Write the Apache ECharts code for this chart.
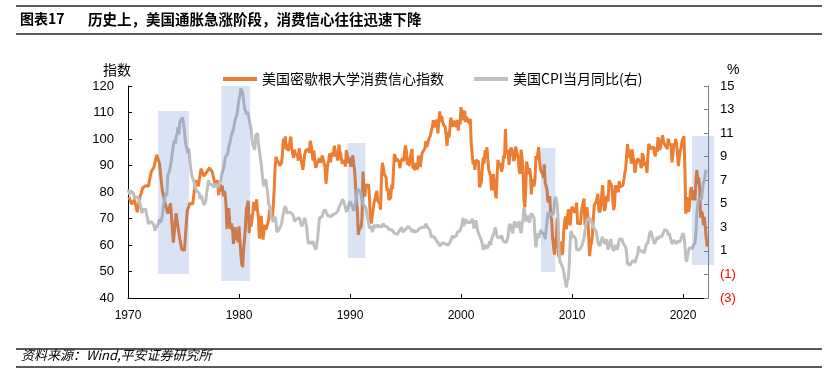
<!DOCTYPE html>
<html>
<head>
<meta charset="utf-8">
<script src="https://cdn.jsdelivr.net/npm/echarts@6/dist/echarts.min.js"></script>
<style>
  html, body { margin: 0; padding: 0; background: #fff; }
  #main { width: 838px; height: 390px; }
</style>
</head>
<body>
<div id="main"></div>
<script>
// 美国密歇根大学消费信心指数：1970-1977 为季度（2/5/8/11月），1978 起为月度
var sentQuarterly = [
  78.1, 75.4, 77.1, 72.4,   // 1970
  78.2, 81.6, 82.4, 82.2,   // 1971
  87.5, 89.3, 94.0, 90.8,   // 1972
  80.8, 76.0, 71.8, 75.7,   // 1973
  60.9, 72.0, 64.5, 58.4,   // 1974
  58.0, 72.9, 75.8, 75.4,   // 1975
  84.5, 82.2, 88.8, 86.0,   // 1976
  87.5, 89.1, 87.6, 83.1    // 1977
];
var sentMonthly = [
  83.7, 84.3, 78.8, 81.6, 82.9, 80.0, 82.4, 78.4, 80.4, 79.3, 75.0, 66.1,   // 1978
  72.1, 73.9, 68.4, 66.0, 68.1, 65.8, 60.4, 64.5, 66.7, 62.1, 63.3, 61.0,   // 1979
  67.0, 66.9, 56.5, 52.7, 51.7, 58.7, 62.3, 67.3, 73.7, 75.0, 76.7, 64.5,   // 1980
  71.4, 66.9, 66.5, 72.4, 76.3, 73.1, 74.1, 77.2, 73.1, 70.3, 62.5, 64.3,   // 1981
  71.0, 66.5, 62.0, 65.5, 67.5, 65.7, 65.4, 65.4, 69.3, 73.4, 72.1, 71.9,   // 1982
  70.4, 74.6, 80.8, 89.1, 93.3, 92.2, 92.8, 90.9, 89.9, 89.3, 91.1, 94.2,   // 1983
  100.1, 97.4, 101.0, 96.1, 98.1, 95.5, 96.6, 99.1, 100.9, 96.3, 95.7, 92.9, // 1984
  96.0, 93.7, 93.7, 94.6, 91.8, 96.5, 94.0, 92.4, 92.1, 88.4, 90.9, 93.9,   // 1985
  95.6, 95.9, 95.1, 96.2, 94.8, 99.3, 97.7, 94.9, 91.9, 95.6, 91.4, 89.1,   // 1986
  90.4, 90.2, 90.8, 92.8, 91.1, 91.5, 93.7, 94.4, 93.6, 89.3, 83.1, 86.8,   // 1987
  90.8, 91.6, 94.6, 91.2, 94.8, 94.7, 93.4, 97.4, 97.3, 94.1, 93.0, 91.9,   // 1988
  97.9, 95.4, 94.3, 91.5, 90.7, 90.6, 92.0, 89.6, 95.8, 93.9, 90.9, 90.5,   // 1989
  93.0, 89.5, 91.3, 93.9, 90.6, 88.3, 88.2, 76.4, 72.8, 63.9, 66.0, 65.5,   // 1990
  66.8, 70.4, 87.7, 81.8, 78.3, 82.1, 82.9, 82.0, 83.0, 78.3, 69.1, 68.2,   // 1991
  67.5, 68.8, 76.0, 77.2, 79.2, 80.4, 76.6, 76.1, 75.6, 73.3, 85.3, 91.0,   // 1992
  89.3, 86.6, 85.9, 85.6, 80.3, 81.5, 77.0, 77.3, 77.9, 82.7, 81.2, 88.2,   // 1993
  94.3, 93.2, 91.5, 92.6, 92.8, 91.2, 89.0, 91.7, 91.5, 92.7, 91.6, 95.1,   // 1994
  97.6, 95.1, 90.3, 92.5, 89.8, 92.7, 94.4, 96.2, 88.9, 90.2, 88.2, 91.0,   // 1995
  89.3, 88.5, 93.7, 92.7, 89.4, 92.4, 94.7, 95.3, 94.7, 96.5, 99.2, 96.9,   // 1996
  97.4, 99.7, 100.0, 101.4, 103.2, 104.5, 107.1, 104.4, 106.0, 105.6, 107.2, 102.1, // 1997
  106.6, 110.4, 106.5, 108.7, 106.5, 105.6, 105.2, 104.4, 100.9, 97.4, 102.7, 100.5, // 1998
  103.9, 108.1, 105.7, 104.6, 106.8, 107.3, 106.0, 104.5, 107.2, 103.2, 107.2, 105.4, // 1999
  112.0, 111.3, 107.1, 109.2, 110.7, 106.4, 108.3, 107.3, 106.8, 105.8, 107.6, 98.4, // 2000
  94.7, 90.6, 91.5, 88.4, 92.0, 92.6, 92.4, 91.5, 81.8, 82.7, 83.9, 88.8,   // 2001
  93.0, 90.7, 95.7, 93.0, 96.9, 92.4, 88.1, 87.6, 86.1, 80.6, 84.2, 86.7,   // 2002
  82.4, 79.9, 77.6, 86.0, 92.1, 89.7, 90.9, 89.3, 87.7, 89.6, 93.7, 92.6,   // 2003
  103.8, 94.4, 95.8, 94.2, 90.2, 95.6, 96.7, 95.9, 94.2, 91.7, 92.8, 97.1,  // 2004
  95.5, 94.1, 92.6, 87.7, 86.9, 96.0, 96.5, 89.1, 76.9, 74.2, 81.6, 91.5,   // 2005
  91.2, 86.7, 88.9, 87.4, 79.1, 84.9, 84.7, 82.0, 85.4, 93.6, 92.1, 91.7,   // 2006
  96.9, 91.3, 88.4, 87.1, 88.3, 85.3, 90.4, 83.4, 83.4, 80.9, 76.1, 75.5,   // 2007
  78.4, 70.8, 69.5, 62.6, 59.8, 56.4, 61.2, 63.0, 70.3, 57.6, 55.3, 60.1,   // 2008
  61.2, 56.3, 57.3, 65.1, 68.7, 70.8, 66.0, 65.7, 73.5, 70.6, 67.4, 72.5,   // 2009
  74.4, 73.6, 73.6, 72.2, 73.6, 76.0, 67.8, 68.9, 68.2, 67.7, 71.6, 74.5,   // 2010
  74.2, 77.5, 67.5, 69.8, 74.3, 71.5, 63.7, 55.8, 59.5, 60.8, 63.7, 69.9,   // 2011
  75.0, 75.3, 76.2, 76.4, 79.3, 73.2, 72.3, 74.3, 78.3, 82.6, 82.7, 72.9,   // 2012
  73.8, 77.6, 78.6, 76.4, 84.5, 84.1, 85.1, 82.1, 77.5, 73.2, 75.1, 82.5,   // 2013
  81.2, 81.6, 80.0, 84.1, 81.9, 82.5, 81.8, 82.5, 84.6, 86.9, 88.8, 93.6,   // 2014
  98.1, 95.4, 93.0, 95.9, 90.7, 96.1, 93.1, 91.9, 87.2, 90.0, 91.3, 92.6,   // 2015
  92.0, 91.7, 91.0, 89.0, 94.7, 93.5, 90.0, 89.8, 91.2, 87.2, 93.8, 98.2,   // 2016
  98.5, 96.3, 96.9, 97.0, 97.1, 95.0, 93.4, 96.8, 95.1, 100.7, 98.5, 95.9,  // 2017
  95.7, 99.7, 101.4, 98.8, 98.0, 98.2, 97.9, 96.2, 100.1, 98.6, 97.5, 98.3, // 2018
  91.2, 93.8, 98.4, 97.2, 100.0, 98.2, 98.4, 89.8, 93.2, 95.5, 96.8, 99.3,  // 2019
  99.8, 101.0, 89.1, 71.8, 72.3, 78.1, 72.5, 74.1, 80.4, 81.8, 76.9, 80.7,  // 2020
  79.0, 76.8, 84.9, 88.3, 82.9, 85.5, 81.2, 70.3, 72.8, 71.7, 67.4, 70.6,   // 2021
  67.2, 62.8, 59.4                                                          // 2022
];

// 美国CPI当月同比（%），1970年1月起
var cpiYoY = [
  6.2, 6.1, 5.8, 6.1, 6.0, 6.0, 5.9, 5.4, 5.6, 5.6, 5.6, 5.5,   // 1970
  5.3, 5.0, 4.7, 4.2, 4.4, 4.6, 4.4, 4.6, 4.1, 3.8, 3.3, 3.3,   // 1971
  3.3, 3.5, 3.5, 3.5, 3.2, 2.7, 2.9, 2.9, 3.2, 3.4, 3.7, 3.4,   // 1972
  3.6, 3.9, 4.6, 5.1, 5.5, 5.9, 5.7, 7.4, 7.4, 7.8, 8.3, 8.7,   // 1973
  9.4, 10.0, 10.4, 10.1, 10.7, 10.9, 11.5, 10.9, 11.9, 12.1, 12.2, 12.3, // 1974
  11.8, 11.2, 10.3, 10.2, 9.5, 9.3, 9.7, 8.6, 7.9, 7.4, 7.4, 6.9, // 1975
  6.7, 6.3, 6.1, 6.0, 6.2, 5.9, 5.4, 5.7, 5.5, 5.5, 4.9, 4.9,   // 1976
  5.2, 5.9, 6.4, 7.0, 6.7, 6.8, 6.8, 6.6, 6.6, 6.4, 6.7, 6.7,   // 1977
  6.8, 6.4, 6.6, 6.5, 6.9, 7.4, 7.7, 7.9, 8.3, 8.9, 8.9, 9.0,   // 1978
  9.3, 9.9, 10.1, 10.5, 10.9, 10.9, 11.3, 11.8, 12.2, 12.1, 12.6, 13.3, // 1979
  13.9, 14.2, 14.8, 14.7, 14.4, 14.4, 13.1, 12.9, 12.6, 12.8, 12.6, 12.5, // 1980
  11.8, 11.4, 10.5, 10.0, 9.8, 9.6, 10.8, 10.8, 11.0, 10.1, 9.6, 8.9, // 1981
  8.4, 7.6, 6.8, 6.5, 6.7, 7.1, 6.4, 5.9, 5.0, 5.1, 4.6, 3.8,   // 1982
  3.7, 3.5, 3.6, 3.9, 3.5, 2.6, 2.5, 2.6, 2.9, 2.9, 3.3, 3.8,   // 1983
  4.2, 4.6, 4.8, 4.6, 4.2, 4.2, 4.2, 4.3, 4.3, 4.3, 4.1, 3.9,   // 1984
  3.5, 3.5, 3.7, 3.7, 3.8, 3.8, 3.6, 3.3, 3.1, 3.2, 3.5, 3.8,   // 1985
  3.9, 3.1, 2.2, 1.6, 1.5, 1.8, 1.6, 1.6, 1.8, 1.5, 1.3, 1.1,   // 1986
  1.5, 2.1, 3.0, 3.8, 3.9, 3.7, 3.9, 4.3, 4.4, 4.5, 4.5, 4.4,   // 1987
  4.0, 3.9, 3.9, 3.9, 3.9, 4.0, 4.1, 4.0, 4.2, 4.2, 4.2, 4.4,   // 1988
  4.7, 4.8, 5.0, 5.1, 5.4, 5.2, 5.0, 4.7, 4.3, 4.5, 4.7, 4.6,   // 1989
  5.2, 5.3, 5.2, 4.7, 4.4, 4.7, 4.8, 5.6, 6.2, 6.3, 6.3, 6.1,   // 1990
  5.7, 5.3, 4.9, 4.9, 5.0, 4.7, 4.4, 3.8, 3.4, 2.9, 3.0, 3.1,   // 1991
  2.6, 2.8, 3.2, 3.2, 3.0, 3.1, 3.2, 3.1, 3.0, 3.2, 3.0, 2.9,   // 1992
  3.3, 3.2, 3.1, 3.2, 3.2, 3.0, 2.8, 2.8, 2.7, 2.8, 2.7, 2.7,   // 1993
  2.5, 2.5, 2.5, 2.4, 2.3, 2.5, 2.8, 2.9, 3.0, 2.6, 2.7, 2.7,   // 1994
  2.8, 2.9, 2.9, 3.1, 3.2, 3.0, 2.8, 2.6, 2.5, 2.8, 2.6, 2.5,   // 1995
  2.7, 2.7, 2.8, 2.9, 2.9, 2.8, 3.0, 2.9, 3.0, 3.0, 3.3, 3.3,   // 1996
  3.0, 3.0, 2.8, 2.5, 2.2, 2.3, 2.2, 2.2, 2.2, 2.1, 1.8, 1.7,   // 1997
  1.6, 1.4, 1.4, 1.4, 1.7, 1.7, 1.7, 1.6, 1.5, 1.5, 1.5, 1.6,   // 1998
  1.7, 1.6, 1.7, 2.3, 2.1, 2.0, 2.1, 2.3, 2.6, 2.6, 2.6, 2.7,   // 1999
  2.7, 3.2, 3.8, 3.1, 3.2, 3.7, 3.7, 3.4, 3.5, 3.4, 3.4, 3.4,   // 2000
  3.7, 3.5, 2.9, 3.3, 3.6, 3.2, 2.7, 2.7, 2.6, 2.1, 1.9, 1.6,   // 2001
  1.1, 1.1, 1.5, 1.6, 1.2, 1.1, 1.5, 1.8, 1.5, 2.0, 2.2, 2.4,   // 2002
  2.6, 3.0, 3.0, 2.2, 2.1, 2.1, 2.1, 2.2, 2.3, 2.0, 1.8, 1.9,   // 2003
  1.9, 1.7, 1.7, 2.3, 3.1, 3.3, 3.0, 2.7, 2.5, 3.2, 3.5, 3.3,   // 2004
  3.0, 3.0, 3.1, 3.5, 2.8, 2.5, 3.2, 3.6, 4.7, 4.3, 3.5, 3.4,   // 2005
  4.0, 3.6, 3.4, 3.5, 4.2, 4.3, 4.1, 3.8, 2.1, 1.3, 2.0, 2.5,   // 2006
  2.1, 2.4, 2.8, 2.6, 2.7, 2.7, 2.4, 2.0, 2.8, 3.5, 4.3, 4.1,   // 2007
  4.3, 4.0, 4.0, 3.9, 4.2, 5.0, 5.6, 5.4, 4.9, 3.7, 1.1, 0.1,   // 2008
  0.0, 0.2, -0.4, -0.7, -1.3, -1.4, -2.1, -1.5, -1.3, -0.2, 1.8, 2.7, // 2009
  2.6, 2.1, 2.3, 2.2, 2.0, 1.1, 1.2, 1.1, 1.1, 1.2, 1.1, 1.5,   // 2010
  1.6, 2.1, 2.7, 3.2, 3.6, 3.6, 3.6, 3.8, 3.9, 3.5, 3.4, 3.0,   // 2011
  2.9, 2.9, 2.7, 2.3, 1.7, 1.7, 1.4, 1.7, 2.0, 2.2, 1.8, 1.7,   // 2012
  1.6, 2.0, 1.5, 1.1, 1.4, 1.8, 2.0, 1.5, 1.2, 1.0, 1.2, 1.5,   // 2013
  1.6, 1.1, 1.5, 2.0, 2.1, 2.1, 2.0, 1.7, 1.7, 1.7, 1.3, 0.8,   // 2014
  -0.1, 0.0, -0.1, -0.2, 0.0, 0.1, 0.2, 0.2, 0.0, 0.2, 0.5, 0.7, // 2015
  1.4, 1.0, 0.9, 1.1, 1.0, 1.0, 0.8, 1.1, 1.5, 1.6, 1.7, 2.1,   // 2016
  2.5, 2.7, 2.4, 2.2, 1.9, 1.6, 1.7, 1.9, 2.2, 2.0, 2.2, 2.1,   // 2017
  2.1, 2.2, 2.4, 2.5, 2.8, 2.9, 2.9, 2.7, 2.3, 2.5, 2.2, 1.9,   // 2018
  1.6, 1.5, 1.9, 2.0, 1.8, 1.6, 1.8, 1.7, 1.7, 1.8, 2.1, 2.3,   // 2019
  2.5, 2.3, 1.5, 0.3, 0.1, 0.6, 1.0, 1.3, 1.4, 1.2, 1.2, 1.4,   // 2020
  1.4, 1.7, 2.6, 4.2, 5.0, 5.4, 5.4, 5.3, 5.4, 6.2, 6.8, 7.0,   // 2021
  7.5, 7.9                                                      // 2022
];

// 通胀急涨阶段（阴影）：起止年份、上下沿（左轴）
var shadeStart = [1972.7, 1978.4, 1989.8, 2007.2, 2020.8];
var shadeEnd   = [1975.5, 1981.0, 1991.4, 2008.5, 2022.8];
var shadeTop   = [110.6, 120, 98.5, 96.6, 101.1];
var shadeBot   = [49.1, 46.4, 55.1, 49.8, 52.5];

var xTicks = [1970, 1980, 1990, 2000, 2010, 2020];

var sentData = [];
sentQuarterly.forEach(function (v, i) { sentData.push([1970 + (1 + 3 * i) / 12, v]); });
sentMonthly.forEach(function (v, i) { sentData.push([1978 + i / 12, v]); });
var cpiData = cpiYoY.map(function (v, i) { return [1970 + i / 12, v]; });
var shadeData = shadeStart.map(function (s, i) { return [s, shadeEnd[i], shadeTop[i], shadeBot[i]]; });

var fontEn = 'Liberation Sans, Arial, Noto Sans CJK SC, sans-serif';
var fontCn = 'Noto Sans CJK SC, Liberation Sans, sans-serif';

var myChart = echarts.init(document.getElementById('main'));
var option = {
  animation: false,
  backgroundColor: '#fff',
  textStyle: { fontFamily: fontEn },
  grid: { left: 128, right: 130, top: 86, bottom: 92 },
  legend: {
    data: [
      { name: '美国密歇根大学消费信心指数', icon: 'rect' },
      { name: '美国CPI当月同比(右)', icon: 'rect' }
    ],
    left: 218,
    top: 67,
    itemWidth: 34,
    itemHeight: 4,
    itemGap: 30,
    textStyle: { fontSize: 14, color: '#000', fontFamily: fontCn }
  },
  xAxis: {
    type: 'value',
    min: 1970,
    max: 2022.25,
    interval: 10,
    axisLine: { onZero: false, lineStyle: { color: '#000', width: 1 } },
    axisTick: { inside: true, length: 4, lineStyle: { color: '#000' } },
    axisLabel: {
      color: '#000', fontSize: 12, margin: 12, showMaxLabel: false,
      formatter: function (v) { return xTicks.indexOf(v) >= 0 ? String(v) : ''; }
    },
    splitLine: { show: false }
  },
  yAxis: [
    {
      type: 'value', min: 40, max: 120, interval: 10,
      name: '指数', nameGap: 9,
      nameTextStyle: { color: '#000', fontSize: 14, fontFamily: fontCn, align: 'right', padding: [0, -3, 0, 0] },
      axisLine: { show: true, lineStyle: { color: '#000', width: 1 } },
      axisTick: { show: true, inside: true, length: 4, lineStyle: { color: '#000' } },
      axisLabel: { color: '#000', fontSize: 13, margin: 14 },
      splitLine: { show: false }
    },
    {
      type: 'value', min: -3, max: 15, interval: 2, position: 'right',
      name: '%', nameGap: 9,
      nameTextStyle: { color: '#000', fontSize: 14, align: 'left', padding: [0, 0, 0, 19] },
      axisLine: { show: true, lineStyle: { color: '#808080', width: 1 } },
      axisTick: { show: true, inside: true, length: 4, lineStyle: { color: '#808080' } },
      axisLabel: {
        fontSize: 13, margin: 12,
        formatter: function (v) { return v < 0 ? '{neg|(' + (-v) + ')}' : '{pos|' + v + '}'; },
        rich: { neg: { color: '#ff0000', fontSize: 13 }, pos: { color: '#000', fontSize: 13 } }
      },
      splitLine: { show: false }
    }
  ],
  series: [
    {
      name: '美国密歇根大学消费信心指数',
      type: 'line',
      yAxisIndex: 0,
      symbol: 'none',
      connectNulls: true,
      data: sentData,
      lineStyle: { color: '#ED7D31', width: 3 },
      itemStyle: { color: '#ED7D31' },
      z: 2
    },
    {
      name: '美国CPI当月同比(右)',
      type: 'line',
      yAxisIndex: 1,
      symbol: 'none',
      data: cpiData,
      lineStyle: { color: '#BFBFBF', width: 3 },
      itemStyle: { color: '#BFBFBF' },
      z: 3
    },
    {
      type: 'custom',
      yAxisIndex: 0,
      clip: false,
      silent: true,
      z: 4,
      encode: { x: [0, 1], y: [2, 3] },
      data: shadeData,
      renderItem: function (params, api) {
        var p0 = api.coord([api.value(0), api.value(2)]);
        var p1 = api.coord([api.value(1), api.value(3)]);
        return {
          type: 'rect',
          shape: { x: p0[0], y: p0[1], width: p1[0] - p0[0], height: p1[1] - p0[1] },
          style: { fill: 'rgba(68,114,196,0.2)' }
        };
      }
    }
  ],
  graphic: [
    { type: 'rect', shape: { x: 16, y: 5, width: 806, height: 2 }, style: { fill: '#595959' } },
    { type: 'text', left: 20, top: 12, style: { text: '图表17', font: 'bold 14px ' + fontCn, fill: '#000' } },
    { type: 'text', left: 88, top: 12, style: { text: '历史上，美国通胀急涨阶段，消费信心往往迅速下降', font: 'bold 14.5px ' + fontCn, fill: '#000' } },
    { type: 'rect', shape: { x: 16, y: 33, width: 806, height: 2 }, style: { fill: '#595959' } },
    { type: 'rect', shape: { x: 16, y: 348, width: 806, height: 2 }, style: { fill: '#595959' } },
    { type: 'text', left: 21, top: 349, style: { text: '资料来源：Wind,平安证券研究所', font: 'italic 13px ' + fontCn, fill: '#000' } },
    { type: 'rect', shape: { x: 16, y: 366, width: 806, height: 2 }, style: { fill: '#595959' } }
  ]
};
myChart.setOption(option);
</script>
</body>
</html>
